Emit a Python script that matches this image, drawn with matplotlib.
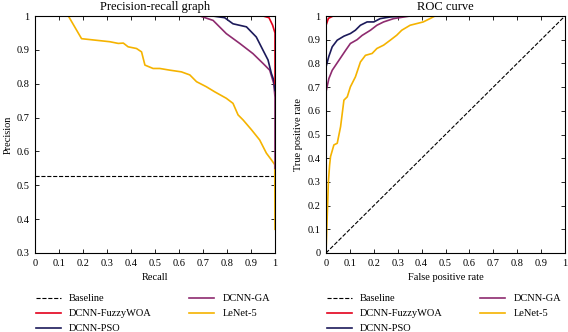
import numpy as np
import matplotlib.pyplot as plt

plt.rcParams['font.family'] = ['Liberation Serif', 'DejaVu Serif']
plt.rcParams['font.size'] = 7.5

# precision-recall data (recall, precision)
pr_fuzzy_r = [0, 0.95, 0.975, 0.99, 1.0, 1.0]
pr_fuzzy_p = [1, 1, 0.995, 0.973, 0.95, 0.80]

pr_pso_r = [0, 0.74, 0.79, 0.825, 0.881, 0.922, 0.95, 0.971, 0.985, 0.995, 1.0]
pr_pso_p = [1, 1, 0.995, 0.977, 0.968, 0.938, 0.899, 0.87, 0.83, 0.81, 0.78]

pr_ga_r = [0, 0.687, 0.742, 0.797, 0.853, 0.908, 0.95, 0.978, 0.995, 1.0, 1.0]
pr_ga_p = [1, 1, 0.987, 0.948, 0.919, 0.889, 0.86, 0.84, 0.80, 0.76, 0.55]

pr_lenet_r = [0, 0.139, 0.194, 0.312, 0.347, 0.368, 0.388, 0.423, 0.444, 0.458, 0.492,
              0.52, 0.562, 0.61, 0.645, 0.673, 0.714, 0.749, 0.797, 0.825, 0.846,
              0.867, 0.902, 0.936, 0.964, 0.985, 0.999, 1.0]
pr_lenet_p = [1, 1, 0.933, 0.924, 0.919, 0.92, 0.909, 0.904, 0.894, 0.855, 0.845,
              0.845, 0.84, 0.835, 0.826, 0.806, 0.791, 0.776, 0.757, 0.742, 0.708,
              0.693, 0.664, 0.634, 0.595, 0.575, 0.561, 0.37]

baseline_p = 0.527

# ROC data (fpr, tpr)
roc_fuzzy_f = [0, 0, 0.01, 0.03, 1.0]
roc_fuzzy_t = [0, 0.96, 0.99, 1.0, 1.0]

roc_pso_f = [0, 0, 0.012, 0.026, 0.047, 0.075, 0.102, 0.123, 0.144, 0.172, 0.2,
             0.227, 0.269, 0.324, 1.0]
roc_pso_t = [0, 0.785, 0.83, 0.87, 0.898, 0.915, 0.926, 0.94, 0.961, 0.975, 0.975,
             0.989, 0.996, 1.0, 1.0]

roc_ga_f = [0, 0, 0.012, 0.026, 0.054, 0.082, 0.102, 0.13, 0.151, 0.186, 0.213,
            0.241, 0.283, 0.352, 1.0]
roc_ga_t = [0, 0.68, 0.736, 0.771, 0.813, 0.855, 0.884, 0.9, 0.918, 0.94, 0.961,
            0.975, 0.989, 1.0, 1.0]

roc_lenet_f = [0, 0.005, 0.01, 0.015, 0.019, 0.033, 0.047, 0.061, 0.075, 0.089, 0.102,
               0.123, 0.144, 0.165, 0.193, 0.213, 0.241, 0.269, 0.296, 0.317, 0.352,
               0.407, 0.435, 0.456, 1.0]
roc_lenet_t = [0, 0.15, 0.3, 0.37, 0.407, 0.456, 0.463, 0.533, 0.645, 0.659, 0.701,
               0.743, 0.806, 0.834, 0.842, 0.863, 0.877, 0.898, 0.919, 0.94, 0.961,
               0.975, 0.989, 1.0, 1.0]

legend_labels = ['Baseline', 'DCNN-FuzzyWOA', 'DCNN-PSO', 'DCNN-GA', 'LeNet-5']

c_fuzzy = '#e3001b'
c_pso = '#1c1a5a'
c_ga = '#8e2b6f'
c_lenet = '#f5b300'
lw = 1.2

fig = plt.figure(figsize=(5.68, 3.32), dpi=100)
ax1 = fig.add_axes([35/568, 1-253/332, 240/568, 237/332])
ax2 = fig.add_axes([326/568, 1-253/332, 239/568, 237/332])

# wykres precision-recall
ax1.plot([0, 1], [baseline_p, baseline_p], 'k--', lw=0.8)
ax1.plot(pr_lenet_r, pr_lenet_p, color=c_lenet, lw=lw)
ax1.plot(pr_ga_r, pr_ga_p, color=c_ga, lw=lw)
ax1.plot(pr_pso_r, pr_pso_p, color=c_pso, lw=lw)
ax1.plot(pr_fuzzy_r, pr_fuzzy_p, color=c_fuzzy, lw=lw)
ax1.set_xlim(0, 1)
ax1.set_ylim(0.3, 1)
ax1.set_xticks(np.arange(0, 1.01, 0.1))
ax1.set_xticklabels(['0', '0.1', '0.2', '0.3', '0.4', '0.5', '0.6', '0.7', '0.8', '0.9', '1'])
ax1.set_yticks(np.arange(0.3, 1.01, 0.1))
ax1.set_yticklabels(['0.3', '0.4', '0.5', '0.6', '0.7', '0.8', '0.9', '1'])
ax1.set_xlabel('Recall', labelpad=4)
ax1.set_ylabel('Precision', labelpad=3)
ax1.set_title('Precision-recall graph', pad=4)

# krzywa ROC
ax2.plot([0, 1], [0, 1], 'k--', lw=0.8)
ax2.plot(roc_lenet_f, roc_lenet_t, color=c_lenet, lw=lw)
ax2.plot(roc_ga_f, roc_ga_t, color=c_ga, lw=lw)
ax2.plot(roc_pso_f, roc_pso_t, color=c_pso, lw=lw)
ax2.plot(roc_fuzzy_f, roc_fuzzy_t, color=c_fuzzy, lw=lw)
ax2.set_xlim(0, 1)
ax2.set_ylim(0, 1)
ax2.set_xticks(np.arange(0, 1.01, 0.1))
ax2.set_xticklabels(['0', '0.1', '0.2', '0.3', '0.4', '0.5', '0.6', '0.7', '0.8', '0.9', '1'])
ax2.set_yticks(np.arange(0, 1.01, 0.1))
ax2.set_yticklabels(['0', '0.1', '0.2', '0.3', '0.4', '0.5', '0.6', '0.7', '0.8', '0.9', '1'])
ax2.set_xlabel('False positive rate', labelpad=4)
ax2.set_ylabel('True positive rate', labelpad=3)
ax2.set_title('ROC curve', pad=4)

for ax in (ax1, ax2):
    ax.tick_params(direction='in', top=True, right=True, length=3, width=0.6, pad=4)
    for s in ax.spines.values():
        s.set_linewidth(0.8)
    handles = [
        plt.Line2D([], [], color='k', ls='--', lw=0.8),
        plt.Line2D([], [], color=c_fuzzy, lw=lw),
        plt.Line2D([], [], color=c_pso, lw=lw),
        plt.Line2D([], [], color=c_ga, lw=lw),
        plt.Line2D([], [], color=c_lenet, lw=lw),
    ]
    ax.legend(handles, legend_labels, ncol=2, loc='upper left', bbox_to_anchor=(-0.015, -0.155),
              frameon=False, handlelength=2.4, handletextpad=0.8, columnspacing=3.6,
              labelspacing=0.55, borderaxespad=0)

fig.savefig('out.png', dpi=100)
